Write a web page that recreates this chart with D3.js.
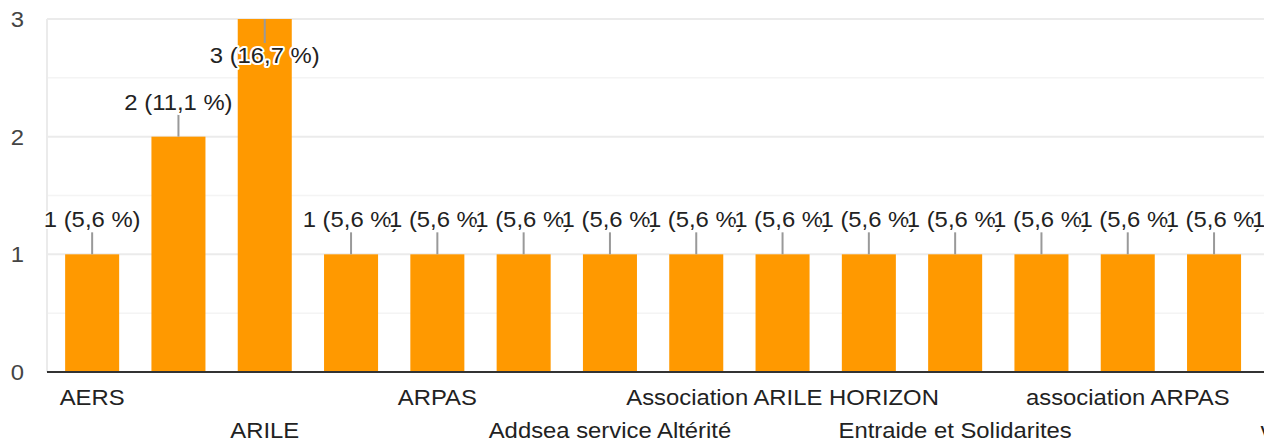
<!DOCTYPE html>
<html>
<head>
<meta charset="utf-8">
<script src="https://cdn.jsdelivr.net/npm/d3@7"></script>
<style>
  body { margin: 0; background: #fff; }
  text { font-family: "Liberation Sans", Arial, sans-serif; }
</style>
</head>
<body>
<div id="chart"></div>
<script>
// categories (sorted like the form export), only every 2nd label is shown
const categories = [
  'AERS', 'ALEFPA', 'ARILE', 'ARILE HORIZON', 'ARPAS', 'ASE',
  'Addsea service Altérité', 'Arile', 'Association ARILE HORIZON',
  'Association ARPAS', 'Entraide et Solidarites', 'HORIZON',
  'association ARPAS', 'arile', 'villages', 'vivre ensemble'
];
const counts = [1, 2, 3, 1, 1, 1, 1, 1, 1, 1, 1, 1, 1, 1, 1, 1];
const percentLabels = ['5,6', '11,1', '16,7', '5,6', '5,6', '5,6', '5,6', '5,6',
  '5,6', '5,6', '5,6', '5,6', '5,6', '5,6', '5,6', '5,6'];
const yTicks = [0, 1, 2, 3];
const yMinor = [0.5, 1.5, 2.5];

var W = 1278, H = 443
var plotLeft = 47, plotTop = 19, plotBottom = 372
var step = 86.3
var fontSize = 22.5
var stretch = 1.06   // the reference text is a bit wider than the font

var svg = d3.select("#chart")
  .append("svg")
  .attr("width", W)
  .attr("height", H)

svg.append("defs").append("clipPath").attr("id", "clip")
  .append("rect").attr("x", 0).attr("y", 0).attr("width", 1264).attr("height", H)

var g = svg.append("g").attr("clip-path", "url(#clip)")

var x = d3.scaleBand()
  .domain(categories)
  .range([plotLeft + 2, plotLeft + 2 + categories.length * step])
  .paddingInner(0.374)
  .paddingOuter(0.187)

var y = d3.scaleLinear()
  .domain([0, 3])
  .range([plotBottom, plotTop])

function place(px, py) { return "translate(" + px + "," + py + ") scale(" + stretch + ",1)" }

// grid
g.append("g").selectAll("line.minor")
  .data(yMinor)
  .enter().append("line")
  .attr("x1", plotLeft).attr("x2", x.range()[1])
  .attr("y1", d => y(d)).attr("y2", d => y(d))
  .attr("stroke", "#f4f4f4").attr("stroke-width", 1.5)

g.append("g").selectAll("line.major")
  .data(yTicks.slice(1))
  .enter().append("line")
  .attr("x1", plotLeft).attr("x2", x.range()[1])
  .attr("y1", d => y(d)).attr("y2", d => y(d))
  .attr("stroke", "#ebebeb").attr("stroke-width", 2)

g.append("line")
  .attr("x1", plotLeft).attr("x2", plotLeft)
  .attr("y1", plotTop).attr("y2", plotBottom)
  .attr("stroke", "#ebebeb").attr("stroke-width", 2)

// y tick labels
svg.append("g").selectAll("text")
  .data(yTicks)
  .enter().append("text")
  .attr("transform", d => place(24, y(d)))
  .attr("dy", "0.36em")
  .attr("text-anchor", "end")
  .attr("font-size", fontSize)
  .attr("fill", "#444")
  .text(d => d)

// bars
g.append("g").selectAll("rect")
  .data(categories)
  .enter().append("rect")
  .attr("x", d => x(d))
  .attr("y", (d, i) => y(counts[i]))
  .attr("width", x.bandwidth())
  .attr("height", (d, i) => y(0) - y(counts[i]))
  .attr("fill", "#ff9900")

// baseline
g.append("line")
  .attr("x1", plotLeft).attr("x2", x.range()[1])
  .attr("y1", plotBottom).attr("y2", plotBottom)
  .attr("stroke", "#333").attr("stroke-width", 2)

// annotations (stem + label), label goes inside when bar hits the top
function inside(i) { return y(counts[i]) - plotTop < 40 }

var ann = g.append("g")
categories.forEach(function (c, i) {
  var cx = x(c) + x.bandwidth() / 2
  var top = y(counts[i])
  var y2 = inside(i) ? top + 24 : top - 22
  ann.append("line")
    .attr("x1", cx).attr("x2", cx)
    .attr("y1", top).attr("y2", y2)
    .attr("stroke", "#999").attr("stroke-width", 2)
  ann.append("text")
    .attr("transform", place(cx, inside(i) ? top + 44 : top - 27))
    .attr("text-anchor", "middle")
    .attr("font-size", fontSize)
    .attr("fill", "#222")
    .attr("stroke", "#fff")
    .attr("stroke-width", 4)
    .attr("stroke-linejoin", "round")
    .attr("paint-order", "stroke")
    .text(counts[i] + " (" + percentLabels[i] + " %)")
})

// x labels: every other category, staggered on two rows
g.append("g").selectAll("text")
  .data(categories.filter((d, i) => i % 2 === 0))
  .enter().append("text")
  .attr("transform", (d, i) => place(x(d) + x.bandwidth() / 2, i % 2 === 0 ? 405 : 438))
  .attr("text-anchor", "middle")
  .attr("font-size", fontSize)
  .attr("fill", "#222")
  .text(d => d)
</script>
</body>
</html>
